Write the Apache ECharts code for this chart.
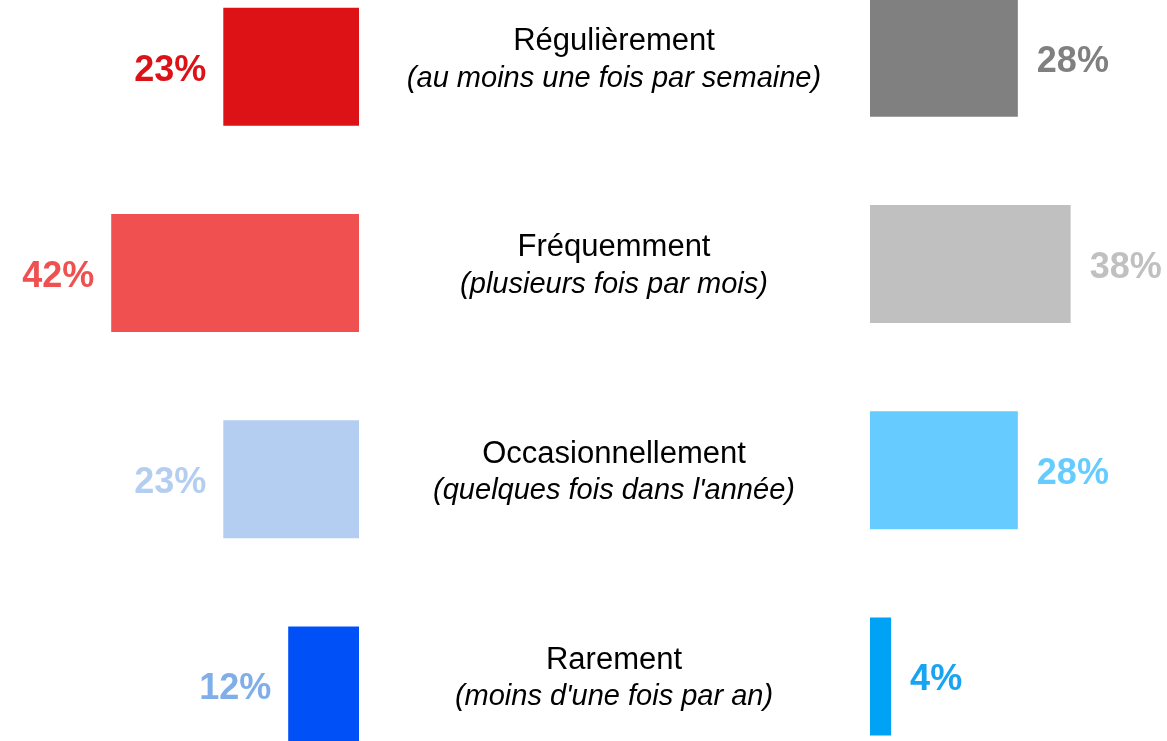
<!DOCTYPE html>
<html>
<head>
<meta charset="utf-8">
<script src="https://cdn.jsdelivr.net/npm/echarts@6/dist/echarts.min.js"></script>
<style>
html,body{margin:0;padding:0;background:#fff;}
#chart{width:1167px;height:741px;}
</style>
</head>
<body>
<div id="chart"></div>
<script>
var categories = ['Régulièrement', 'Fréquemment', 'Occasionnellement', 'Rarement'];
var subtitles = ['(au moins une fois par semaine)', '(plusieurs fois par mois)', "(quelques fois dans l'année)", "(moins d'une fois par an)"];
var leftValues = [23, 42, 23, 12];
var rightValues = [28, 38, 28, 4];
var leftColors = ['#DD1216', '#F05050', '#B3CEF0', '#0050F8'];
var leftLabelColors = ['#DD1216', '#F05050', '#B3CEF0', '#7FAEE9'];
var rightColors = ['#808080', '#C0C0C0', '#66CCFF', '#00A2F5'];
var rightLabelColors = ['#808080', '#C0C0C0', '#66CCFF', '#18A4F0'];

var font = '"Liberation Sans", Arial, sans-serif';

function buildData(values, colors, labelColors) {
  return values.map(function (v, i) {
    return { value: v, itemStyle: { color: colors[i] }, label: { color: labelColors[i] } };
  });
}

var chart = echarts.init(document.getElementById('chart'), null, { renderer: 'canvas' });
chart.setOption({
  animation: false,
  backgroundColor: '#ffffff',
  grid: [
    { left: 5, width: 354, top: -36.5, height: 825, containLabel: false, outerBoundsMode: 'none' },
    { left: 870, width: 264, top: -45.5, height: 825, containLabel: false, outerBoundsMode: 'none' }
  ],
  xAxis: [
    { gridIndex: 0, type: 'value', min: 0, max: 60, inverse: true, show: false, splitLine: { show: false } },
    { gridIndex: 1, type: 'value', min: 0, max: 50, show: false, splitLine: { show: false } }
  ],
  yAxis: [
    { gridIndex: 0, type: 'category', data: categories, inverse: true, show: false },
    {
      gridIndex: 1, type: 'category', data: categories, inverse: true, position: 'left',
      axisLine: { show: false }, axisTick: { show: false }, splitLine: { show: false },
      axisLabel: {
        show: true, interval: 0, margin: 256, align: 'center', verticalAlign: 'middle',
        padding: [5, 0, 0, 0],
        formatter: function (val, idx) {
          return '{a|' + val + '}\n{b|' + subtitles[idx] + '}';
        },
        rich: {
          a: { fontFamily: font, fontSize: 31, color: '#000000', lineHeight: 37, align: 'center' },
          b: { fontFamily: font, fontSize: 29, fontStyle: 'italic', color: '#000000', lineHeight: 37, align: 'center' }
        }
      }
    }
  ],
  series: [
    {
      type: 'bar', xAxisIndex: 0, yAxisIndex: 0, barWidth: 118,
      data: buildData(leftValues, leftColors, leftLabelColors),
      label: { show: true, position: 'left', distance: 17, offset: [0, 4], formatter: '{c}%', fontFamily: font, fontSize: 36, fontWeight: 'bold' }
    },
    {
      type: 'bar', xAxisIndex: 1, yAxisIndex: 1, barWidth: 118,
      data: buildData(rightValues, rightColors, rightLabelColors),
      label: { show: true, position: 'right', distance: 19, offset: [0, 4], formatter: '{c}%', fontFamily: font, fontSize: 36, fontWeight: 'bold' }
    }
  ]
});
</script>
</body>
</html>
